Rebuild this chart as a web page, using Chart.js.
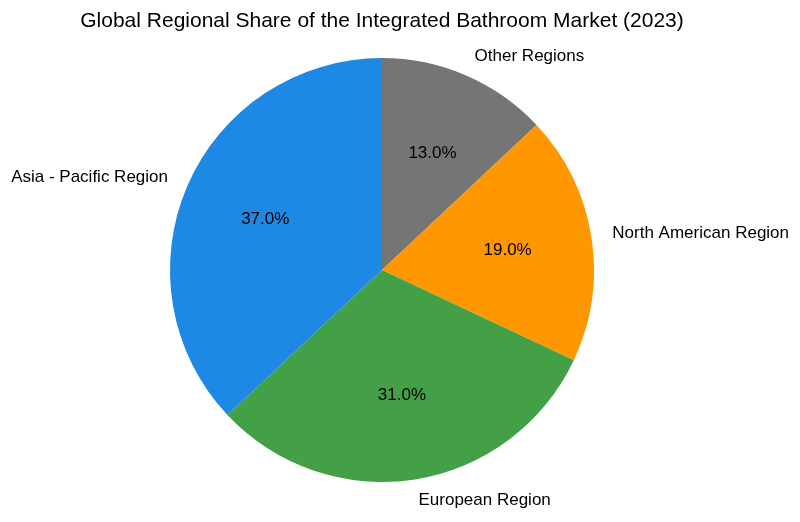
<!DOCTYPE html>
<html>
<head>
<meta charset="utf-8">
<script src="https://cdn.jsdelivr.net/npm/chart.js@4/dist/chart.umd.min.js"></script>
<style>
  html, body { margin: 0; padding: 0; background: #fff; }
  #wrap { width: 800px; height: 522px; }
</style>
</head>
<body>
<div id="wrap"><canvas id="myChart" width="800" height="522"></canvas></div>
<script>
// Data (listed clockwise from 12 o'clock, which matches the reference's counter-clockwise order)
var regions = ['Other Regions', 'North American Region', 'European Region', 'Asia - Pacific Region'];
var shares = [13.0, 19.0, 31.0, 37.0];
var sliceColors = ['#757575', '#FF9800', '#43A047', '#1E88E5'];
var chartTitle = 'Global Regional Share of the Integrated Bathroom Market (2023)';

var fontFamily = '"Liberation Sans", Arial, sans-serif';

// draws the title, outer labels and percentages the way matplotlib places them
var pieLabels = {
    id: 'pieLabels',
    afterDatasetsDraw: function (chart) {
        var ctx = chart.ctx;
        var meta = chart.getDatasetMeta(0);
        ctx.save();
        ctx.fillStyle = '#000';
        ctx.textBaseline = 'middle';

        ctx.font = '21px ' + fontFamily;
        ctx.textAlign = 'center';
        ctx.fillText(chartTitle, 382, 21);

        meta.data.forEach(function (arc, i) {
            var mid = (arc.startAngle + arc.endAngle) / 2;
            var r = arc.outerRadius;
            var cx = arc.x, cy = arc.y;

            ctx.font = '17px ' + fontFamily;
            var lx = cx + Math.cos(mid) * r * 1.1;
            var ly = cy + Math.sin(mid) * r * 1.1;
            ctx.textAlign = Math.cos(mid) >= 0 ? 'left' : 'right';
            ctx.fillText(regions[i], lx, ly);

            ctx.textAlign = 'center';
            var px = cx + Math.cos(mid) * r * 0.6;
            var py = cy + Math.sin(mid) * r * 0.6;
            ctx.fillText(shares[i].toFixed(1) + '%', px, py);
        });
        ctx.restore();
    }
};

var element = document.getElementById('myChart').getContext('2d');

var chart = new Chart(element, {
    type: 'pie',
    data: {
        labels: regions,
        datasets: [{
            data: shares,
            backgroundColor: sliceColors,
            borderWidth: 0,
            hoverOffset: 0
        }]
    },
    options: {
        responsive: false,
        animation: false,
        rotation: 0,
        layout: { padding: { left: 170, right: 206, top: 58, bottom: 40 } },
        plugins: {
            legend: { display: false },
            title: { display: false },
            tooltip: { enabled: false }
        }
    },
    plugins: [pieLabels]
});
</script>
</body>
</html>
